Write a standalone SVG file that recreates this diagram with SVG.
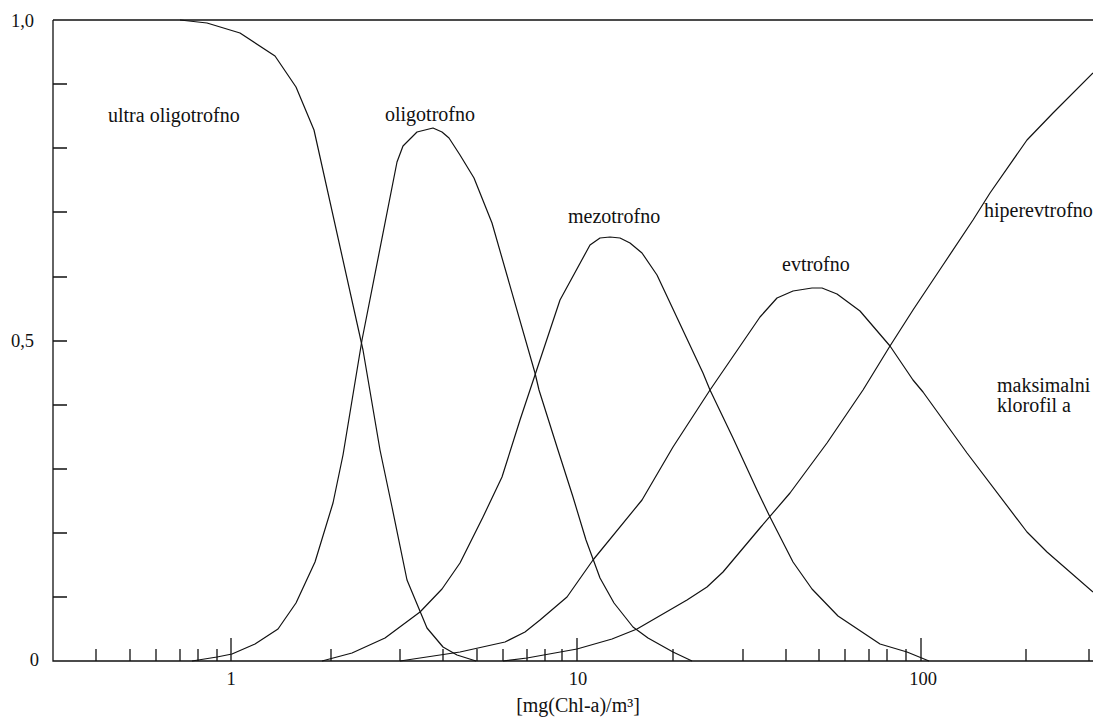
<svg xmlns="http://www.w3.org/2000/svg" width="1093" height="717" viewBox="0 0 1093 717">
<style>
  .ax{stroke:#111;stroke-width:1.3;fill:none}
  .tk{stroke:#111;stroke-width:1.3;fill:none}
  .cv{stroke:#111;stroke-width:1.2;fill:none;stroke-linejoin:round}
  text{font-family:'Liberation Serif','Times New Roman',serif;fill:#111}
  .lbl{font-size:20px}
  .num{font-size:18.5px}
</style>
<rect width="1093" height="717" fill="#fff"/>
<g id="axes">
  <path class="ax" d="M53,20 H1093 M53,20 V661 H1093"/>
  <path class="tk" d="M53,84 H67 M53,148 H67 M53,212 H67 M53,277 H67 M53,341 H67 M53,405 H67 M53,469 H67 M53,533 H67 M53,597 H67"/>
  <path class="tk" d="M96,649 V661 M130,649 V661 M156,649 V661 M180,649 V661 M198,649 V661 M217,649 V661 M231,638 V661
  M331,649 V661 M400,649 V661 M443,649 V661 M477,649 V661 M503,649 V661 M527,649 V661 M545,649 V661 M562,649 V661 M577,638 V661
  M673,649 V661 M743,649 V661 M786,649 V661 M819,649 V661 M845,649 V661 M869,649 V661 M887,649 V661 M906,649 V661 M921,638 V661
  M1026,649 V661 M1089,649 V661"/>
  <text class="num" x="34" y="27" text-anchor="end">1,0</text>
  <text class="num" x="34" y="347" text-anchor="end">0,5</text>
  <text class="num" x="39" y="666" text-anchor="end">0</text>
  <text class="num" x="231" y="685" text-anchor="middle">1</text>
  <text class="num" x="578" y="685" text-anchor="middle">10</text>
  <text class="num" x="923" y="685" text-anchor="middle">100</text>
  <text class="lbl" x="578" y="712" text-anchor="middle">[mg(Chl-a)/m³]</text>
</g>
<g id="connectors">
  <polyline id="ultra" class="cv" points="180,20 207,23 240,33 275,56 296,87 314,130 363,350 380,450 392,507 407,580 427,628 443,647 457,655 476,661"/>
  <polyline id="oligo" class="cv" points="192,661 217,657 232,654 255,644 278,629 296,603 315,562 333,503 343,455 362,340 397,162 403,146 417,132 433,128 442,132 449,138 460,155 474,178 492,223 535,373 539,390 557,447 573,497 586,540 600,578 614,603 633,627 648,638 673,652 692,661"/>
  <polyline id="mezo" class="cv" points="322,661 352,653 385,638 420,612 442,589 460,563 483,517 502,477 520,420 530,390 560,300 590,245 600,238 610,237 620,238 630,243 642,253 657,275 703,373 710,390 733,438 757,490 770,517 793,562 812,589 838,616 880,644 907,652 929,661"/>
  <polyline id="evtro" class="cv" points="400,661 460,652 505,642 525,632 540,620 567,597 593,560 642,500 673,447 710,390 760,317 777,298 793,291 812,288 822,288 837,294 860,311 890,346 913,380 923,392 967,453 1027,532 1047,552 1093,592"/>
  <polyline id="hiper" class="cv" points="503,661 527,658 577,649 612,639 637,629 687,600 707,587 723,572 760,528 790,493 827,443 863,390 890,346 913,310 943,265 973,220 990,193 1027,140 1053,113 1093,73"/>
</g>
<g id="n-ultra"><text class="lbl" x="108" y="122">ultra oligotrofno</text></g>
<g id="n-oligo"><text class="lbl" x="385" y="121">oligotrofno</text></g>
<g id="n-mezo"><text class="lbl" x="568" y="223">mezotrofno</text></g>
<g id="n-evtro"><text class="lbl" x="782" y="271">evtrofno</text></g>
<g id="n-hiper"><text class="lbl" x="984" y="217">hiperevtrofno</text></g>
<g id="n-max"><text class="lbl" x="997" y="392">maksimalni</text><text class="lbl" x="997" y="412">klorofil a</text></g>
</svg>
